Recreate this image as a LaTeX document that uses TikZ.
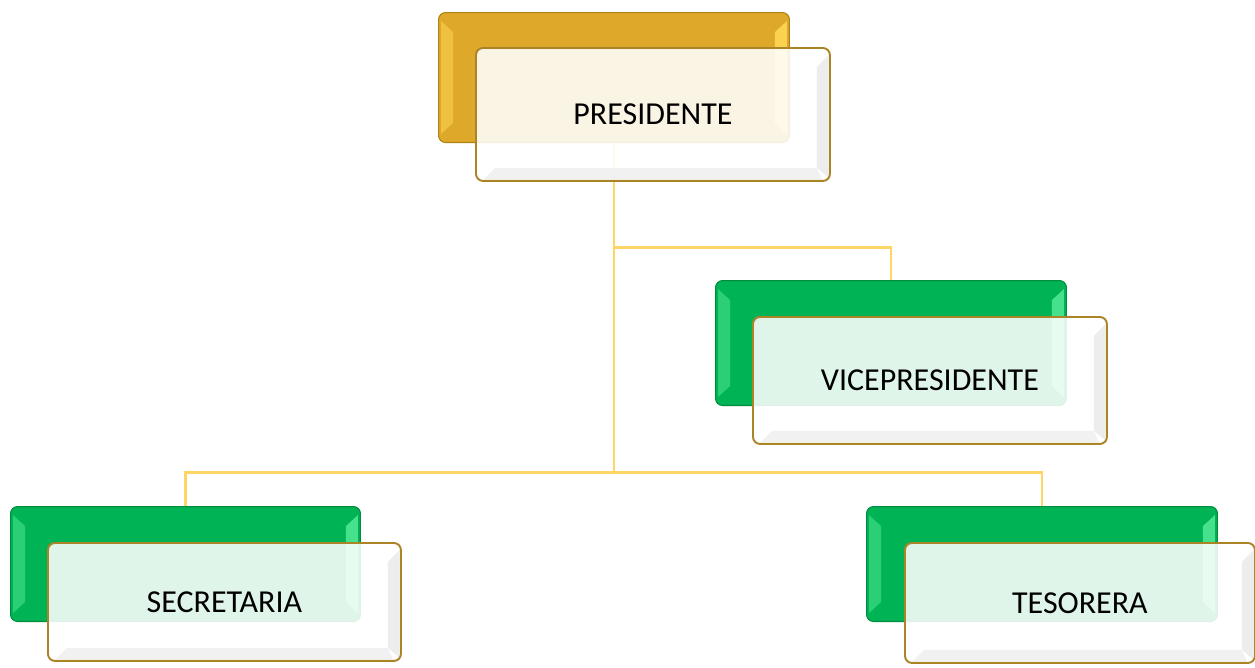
\documentclass[tikz,border=0pt]{standalone}
\usepackage{fontspec}
\setmainfont{Carlito}
\usetikzlibrary{calc}
\definecolor{gold}{RGB}{222,168,42}
\definecolor{goldlt}{RGB}{250,210,80}
\definecolor{golddk}{RGB}{175,130,20}
\definecolor{grn}{RGB}{0,180,85}
\definecolor{grnlt}{RGB}{70,225,140}
\definecolor{grndk}{RGB}{0,140,60}
\definecolor{conn}{RGB}{255,214,102}
\definecolor{rim}{RGB}{172,132,40}
\newcommand{\bevelL}[2]{%
  \fill[#2,opacity=0.6] ($(#1.north west)+(3,9)$) -- ($(#1.north west)+(15,20)$) -- ($(#1.south west)+(15,-20)$) -- ($(#1.south west)+(3,-9)$) -- cycle;
  \fill[#2] ($(#1.north east)+(-3,9)$) -- ($(#1.north east)+(-15,20)$) -- ($(#1.south east)+(-15,-20)$) -- ($(#1.south east)+(-3,-9)$) -- cycle;}
\newcommand{\bevelF}[1]{%
  \fill[black!10,opacity=0.7] ($(#1.north east)+(-3,9)$) -- ($(#1.north east)+(-14,20)$) -- ($(#1.south east)+(-14,-14)$) -- ($(#1.south east)+(-3,-5)$) -- cycle;
  \fill[black!7,opacity=0.7] ($(#1.south west)+(9,-3)$) -- ($(#1.south west)+(20,-14)$) -- ($(#1.south east)+(-14,-14)$) -- ($(#1.south east)+(-9,-3)$) -- cycle;}
\begin{document}
\begin{tikzpicture}[x=0.02cm,y=-0.02cm,
  backbox/.style={rounded corners=4pt, inner sep=0pt, anchor=north west, line width=0.6pt},
  goldbox/.style={backbox, fill=gold, draw=golddk},
  greenbox/.style={backbox, fill=grn, draw=grndk},
  frontbox/.style={rounded corners=4pt, inner sep=0pt, anchor=north west, fill=white, fill opacity=0.88, text opacity=1, draw=rim, line width=1.1pt, font=\fontsize{18.2pt}{22pt}\selectfont},
  connector/.style={draw=conn, line width=1.7pt}]
\useasboundingbox (0,0) rectangle (1255,667);
% back boxes
\node[goldbox, minimum width=7.02cm, minimum height=2.60cm] (pb) at (438,12) {};
\node[greenbox, minimum width=7.02cm, minimum height=2.50cm] (vb) at (715,280) {};
\node[greenbox, minimum width=7.00cm, minimum height=2.30cm] (sb) at (10,506) {};
\node[greenbox, minimum width=7.02cm, minimum height=2.30cm] (tb) at (866,506) {};
\bevelL{pb}{goldlt}
\bevelL{vb}{grnlt}
\bevelL{sb}{grnlt}
\bevelL{tb}{grnlt}
% connectors
\coordinate (j1) at (pb.south |- 0,247);
\coordinate (j2) at (pb.south |- 0,472);
\draw[connector] (pb.south) -- (j2);
\draw[connector] (j1) -| (vb.north);
\draw[connector] (sb.north) |- (j2) -| (tb.north);
% front boxes
\node[frontbox, minimum width=7.08cm, minimum height=2.66cm] (pf) at (475,47) {PRESIDENTE};
\node[frontbox, minimum width=7.08cm, minimum height=2.54cm] (vf) at (752,316) {VICEPRESIDENTE};
\node[frontbox, minimum width=7.06cm, minimum height=2.36cm] (sf) at (47,542) {SECRETARIA};
\node[frontbox, minimum width=7.00cm, minimum height=2.40cm] (tf) at (904,542) {TESORERA};
\bevelF{pf}
\bevelF{vf}
\bevelF{sf}
\bevelF{tf}
\end{tikzpicture}
\end{document}
